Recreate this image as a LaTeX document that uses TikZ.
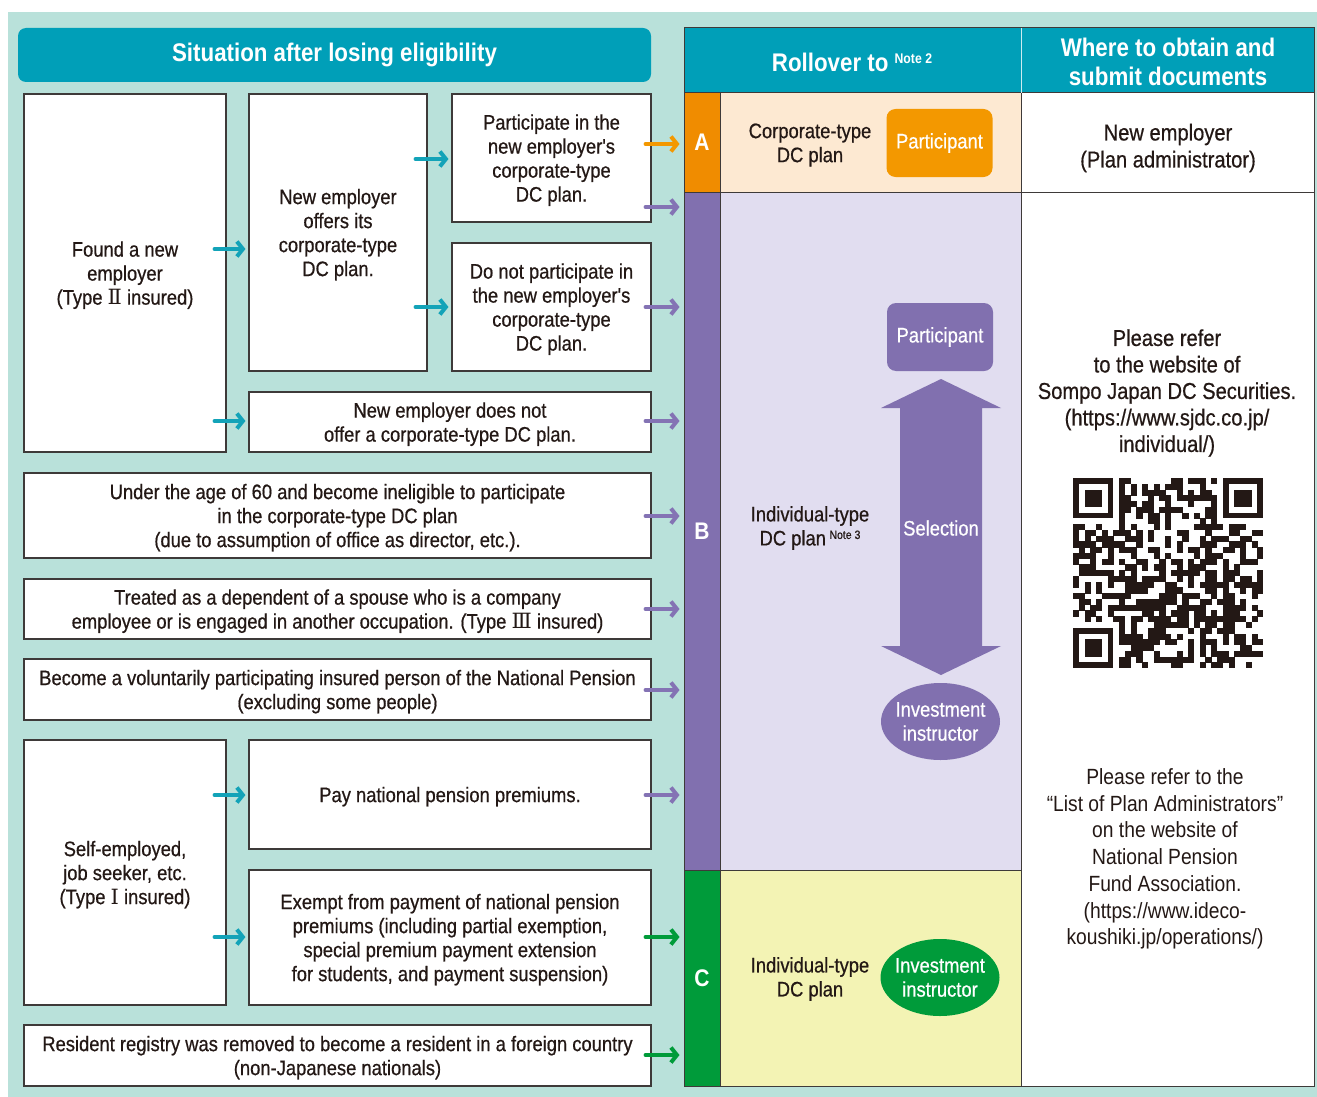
\documentclass[tikz,border=0pt]{standalone}
\usepackage{fontspec}
\setmainfont{Liberation Sans}[FakeStretch=0.875]
\newfontfamily\medfont{Liberation Sans}[FakeStretch=0.875,FakeBold=0.6]
\newfontfamily\romfont{DejaVu Serif}
\usetikzlibrary{arrows.meta,shapes.geometric}
\definecolor{bgmint}{HTML}{B9E1DA}
\definecolor{hdr}{HTML}{009FB8}
\definecolor{ink}{HTML}{231815}
\definecolor{boxline}{HTML}{3E3A39}
\definecolor{corange}{HTML}{F08C00}
\definecolor{porange}{HTML}{F39800}
\definecolor{peach}{HTML}{FDE9D2}
\definecolor{cpurple}{HTML}{8170AF}
\definecolor{lav}{HTML}{E1DDF0}
\definecolor{cgreen}{HTML}{009B3A}
\definecolor{cyellow}{HTML}{F3F3B4}
\definecolor{ateal}{HTML}{13A3B8}
\definecolor{apurple}{HTML}{8473B4}
\newcommand{\rn}[1]{{\romfont #1}}
\newcommand{\notesupH}[1]{{\fontsize{14}{14}\selectfont\raisebox{8pt}{#1}}}
\newcommand{\notesupB}[1]{{\fontsize{12}{12}\selectfont\raisebox{6.5pt}{#1}}}
\tikzset{
  sitbox/.style={draw=boxline,line width=1.1pt,fill=white,align=center,inner sep=0pt,
    font=\medfont\fontsize{21}{24}\selectfont,text=ink,text depth=0pt},
  colletter/.style={draw=boxline,line width=1pt,inner sep=0pt,minimum width=36,text=white,
    font=\bfseries\fontsize{24}{24}\selectfont},
  pill/.style={rounded corners=9pt,minimum width=106,minimum height=68,inner sep=0pt,text=white,
    font=\medfont\fontsize{21}{24}\selectfont,align=center},
  oval/.style={ellipse,minimum width=119,minimum height=77,inner xsep=-10pt,inner ysep=-4pt,text=white,
    font=\medfont\fontsize{21}{24}\selectfont,align=center},
  plain/.style={align=center,text=ink,font=\medfont\fontsize{21}{24}\selectfont},
  rtext/.style={align=center,text=ink,font=\medfont\fontsize{23}{26.5}\selectfont},
  ltext/.style={align=center,text=ink,font=\fontsize{22}{26.7}\selectfont},
  arr/.style={line width=4pt,line cap=round,-{Straight Barb[length=6pt,width=15pt]}},
  hdrtext/.style={text=white,align=center,font=\bfseries\fontsize{25.5}{29}\selectfont},
}
\begin{document}
\begin{tikzpicture}[x=1pt,y=-1pt]
\useasboundingbox (0,0) rectangle (1317,1097);
\fill[bgmint] (8,12) rectangle (1317,1097);
% left header
\node[fill=hdr,rounded corners=8pt,minimum width=633,minimum height=54,inner sep=0pt,hdrtext] (hdrL) at (334.5,55) {Situation after losing eligibility};
% left boxes
\node[sitbox,minimum width=202,minimum height=358] (found) at (125,273) {Found a new\\employer\\(Type \rn{Ⅱ} insured)};
\node[sitbox,minimum width=178,minimum height=277] (offers) at (338,232.5) {New employer\\offers its\\corporate-type\\DC plan.};
\node[sitbox,minimum width=199,minimum height=128] (partic) at (551.5,158) {Participate in the\\new employer's\\corporate-type\\DC plan.};
\node[sitbox,minimum width=199,minimum height=128] (donot) at (551.5,307) {Do not participate in\\the new employer's\\corporate-type\\DC plan.};
\node[sitbox,minimum width=402,minimum height=60] (nooffer) at (450,422) {New employer does not\\offer a corporate-type DC plan.};
\node[sitbox,minimum width=627,minimum height=85] (under) at (337.5,515.5) {Under the age of 60 and become ineligible to participate\\in the corporate-type DC plan\\(due to assumption of office as director, etc.).};
\node[sitbox,minimum width=627,minimum height=60] (treated) at (337.5,609) {Treated as a dependent of a spouse who is a company\\employee or is engaged in another occupation. (Type \rn{Ⅲ} insured)};
\node[sitbox,minimum width=627,minimum height=61] (become) at (337.5,689.5) {Become a voluntarily participating insured person of the National Pension\\(excluding some people)};
\node[sitbox,minimum width=202,minimum height=265] (self) at (125,872.5) {Self-employed,\\job seeker, etc.\\(Type \rn{Ⅰ} insured)};
\node[sitbox,minimum width=402,minimum height=109] (pay) at (450,794.5) {Pay national pension premiums.};
\node[sitbox,minimum width=402,minimum height=135] (exempt) at (450,937.5) {Exempt from payment of national pension\\premiums (including partial exemption,\\special premium payment extension\\for students, and payment suspension)};
\node[sitbox,minimum width=627,minimum height=61] (resident) at (337.5,1055.5) {Resident registry was removed to become a resident in a foreign country\\(non-Japanese nationals)};
% right panel
\fill[hdr] (684,28) rectangle (1314,93);
\fill[peach] (720,93) rectangle (1021,192);
\fill[lav] (720,192) rectangle (1021,870);
\fill[cyellow] (720,870) rectangle (1021,1086);
\fill[white] (1021,93) rectangle (1314,1086);
\node[colletter,fill=corange,minimum height=99] (colA) at (702,142.5) {A};
\node[colletter,fill=cpurple,minimum height=678] (colB) at (702,531) {B};
\node[colletter,fill=cgreen,minimum height=216] (colC) at (702,978) {C};
\draw[boxline,line width=1pt] (684,28) rectangle (1314,1086);
\draw[boxline,line width=1pt] (684,93) -- (1314,93);
\draw[boxline,line width=1pt] (684,192) -- (1314,192);
\draw[boxline,line width=1pt] (684,870) -- (1021,870);
\draw[boxline,line width=1pt] (1021,93) -- (1021,1086);
\draw[white!80!hdr,line width=1pt] (1021,28) -- (1021,93);
\node[hdrtext] (hdrR1) at (852,62) {Rollover to \notesupH{Note 2}};
\node[hdrtext] (hdrR2) at (1168,62) {Where to obtain and\\submit documents};
% column contents
\node[plain] (cta) at (810,145) {Corporate-type\\DC plan};
\node[pill,fill=porange] (partA) at (939.5,143) {Participant};
\node[plain] (ctb) at (810,528) {Individual-type\\DC plan\,\notesupB{Note 3}};
\node[pill,fill=cpurple] (partB) at (940,337) {Participant};
\fill[cpurple] (941,379) -- (1001,408) -- (982,408) -- (982,646) -- (1001,646) -- (941,675) -- (881,646) -- (900,646) -- (900,408) -- (881,408) -- cycle;
\node[text=white,font=\medfont\fontsize{21}{24}\selectfont] (sel) at (941,528) {Selection};
\node[oval,fill=cpurple] (invB) at (940.5,721.5) {Investment\\instructor};
\node[plain] (ctc) at (810,979) {Individual-type\\DC plan};
\node[oval,fill=cgreen] (invC) at (940,977.5) {Investment\\instructor};
% right column texts
\node[rtext,font=\medfont\fontsize{23}{27}\selectfont] (whereA) at (1168,148) {New employer\\(Plan administrator)};
\node[rtext] (whereB) at (1167,393) {Please refer\\to the website of\\Sompo Japan DC Securities.\\(https://www.sjdc.co.jp/\\individual/)};
\node[ltext] (whereC) at (1165,859) {Please refer to the\\“List of Plan Administrators”\\on the website of\\National Pension\\Fund Association.\\(https://www.ideco-\\koushiki.jp/operations/)};
% QR code
\def\qrx{1073}\def\qry{478}\def\qrm{5.76}
\pgfmathsetseed{2024}
\foreach \i in {0,...,32}{
  \foreach \j in {0,...,32}{
    \pgfmathrandominteger{\qrr}{0}{99}
    \pgfmathtruncatemacro{\qrk}{((\i<8)&&(\j<8))||((\i>24)&&(\j<8))||((\i<8)&&(\j>24))?0:1}
    \ifnum\qrk=1
      \ifnum\qrr<56 \fill[ink] ({\qrx+\i*\qrm},{\qry+\j*\qrm}) rectangle ++(\qrm+0.4,\qrm+0.4);\fi
    \fi
  }
}
\foreach \ox/\oy in {0/0,26/0,0/26}{
  \fill[ink] ({\qrx+\ox*\qrm},{\qry+\oy*\qrm}) rectangle ++(7*\qrm,7*\qrm);
  \fill[white] ({\qrx+(\ox+1)*\qrm},{\qry+(\oy+1)*\qrm}) rectangle ++(5*\qrm,5*\qrm);
  \fill[ink] ({\qrx+(\ox+2)*\qrm},{\qry+(\oy+2)*\qrm}) rectangle ++(3*\qrm,3*\qrm);
}
% arrows
\draw[arr,ateal] ([xshift=-12pt]found.east |- 0,249) -- ([xshift=-3pt]offers.west |- 0,249);
\draw[arr,ateal] ([xshift=-12pt]found.east |- 0,421) -- ([xshift=-3pt]nooffer.west |- 0,421);
\draw[arr,ateal] ([xshift=-12pt]offers.east |- 0,159) -- ([xshift=-3pt]partic.west |- 0,159);
\draw[arr,ateal] ([xshift=-12pt]offers.east |- 0,307) -- ([xshift=-3pt]donot.west |- 0,307);
\draw[arr,ateal] ([xshift=-12pt]self.east |- 0,795) -- ([xshift=-3pt]pay.west |- 0,795);
\draw[arr,ateal] ([xshift=-12pt]self.east |- 0,937) -- ([xshift=-3pt]exempt.west |- 0,937);
\draw[arr,porange] ([xshift=-6pt]partic.east |- 0,144) -- ([xshift=-4pt]colA.west |- 0,144);
\draw[arr,apurple] ([xshift=-6pt]partic.east |- 0,207) -- ([xshift=-4pt]colB.west |- 0,207);
\draw[arr,apurple] ([xshift=-6pt]donot.east |- 0,307) -- ([xshift=-4pt]colB.west |- 0,307);
\draw[arr,apurple] ([xshift=-6pt]nooffer.east |- 0,421) -- ([xshift=-4pt]colB.west |- 0,421);
\draw[arr,apurple] ([xshift=-6pt]under.east |- 0,516) -- ([xshift=-4pt]colB.west |- 0,516);
\draw[arr,apurple] ([xshift=-6pt]treated.east |- 0,609) -- ([xshift=-4pt]colB.west |- 0,609);
\draw[arr,apurple] ([xshift=-6pt]become.east |- 0,690) -- ([xshift=-4pt]colB.west |- 0,690);
\draw[arr,apurple] ([xshift=-6pt]pay.east |- 0,795) -- ([xshift=-4pt]colB.west |- 0,795);
\draw[arr,cgreen] ([xshift=-6pt]exempt.east |- 0,937) -- ([xshift=-4pt]colC.west |- 0,937);
\draw[arr,cgreen] ([xshift=-6pt]resident.east |- 0,1055) -- ([xshift=-4pt]colC.west |- 0,1055);
\end{tikzpicture}
\end{document}
